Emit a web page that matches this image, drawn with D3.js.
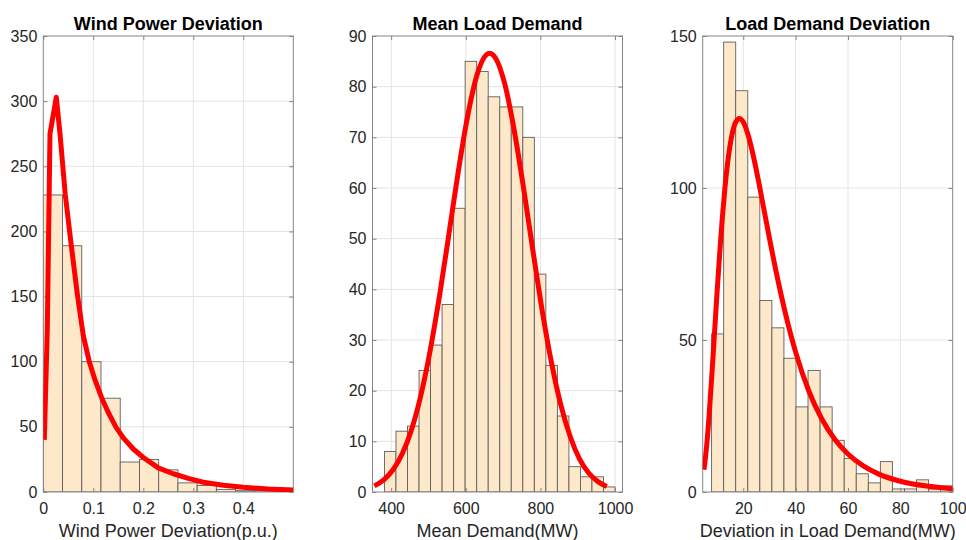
<!DOCTYPE html>
<html><head><meta charset="utf-8">
<script src="https://cdn.jsdelivr.net/npm/d3@7"></script>
<style>
body{margin:0;background:#fff}
svg text{font-family:Arial,"Liberation Sans",Helvetica,sans-serif}
</style>
</head><body>
<svg id="chart" width="966" height="540"></svg>
<script>
// ---------- DATA ----------
// Panel 1: Wind Power Deviation (p.u.)
const windCounts = [228,189,100,72,23,25,17,7,5,2,1,1,1];
const windBinStart = 0;
const windBinWidth = 0.03846;
const windXTicks = [0,0.1,0.2,0.3,0.4];
const windYTicks = [0,50,100,150,200,250,300,350];
const windCurveX = [0.002,0.008,0.0134,0.026,0.0334,0.044,0.056,0.068,0.08,0.092,0.1034,0.117,0.13,0.145,0.16,0.18,0.2,0.23,0.26,0.29,0.32,0.36,0.40,0.45,0.5];
const windCurveY = [40,125,275,303,275,228,189,152,120,100,86,72,61,50,41.5,33,26.5,18.5,14,10.5,7.5,5.2,3.6,2.3,1.5];

// Panel 2: Mean Load Demand (MW)
const meanCounts = [8,12,13,24,29,37,56,85,83,78,76,76,70,43,25,15,5,3,3,1];
const meanBinStart = 382;
const meanBinWidth = 30.9;
const meanXTicks = [400,600,800,1000];
const meanYTicks = [0,10,20,30,40,50,60,70,80,90];
const meanCurveX = [355,380,405,430,455,480,505,530,555,580,605,630,655,664,680,705,730,755,780,805,830,855,880,905,930,955,978];
const meanCurveY = [1.2,2.4,4.4,7.6,12.4,19.2,28.1,38.9,51.0,63.3,74.2,82.3,86.3,86.6,85.6,80.4,71.3,59.9,47.6,35.7,25.4,17.1,10.9,6.5,3.7,2.0,1.1];

// Panel 3: Deviation in Load Demand (MW)
const devCounts = [52,148,132,97,63,54,44,28,40,28,17,11,6,3,10,1,1,4,1,2];
const devBinStart = 7.9;
const devBinWidth = 4.605;
const devXTicks = [20,40,60,80,100];
const devYTicks = [0,50,100,150];
const devCurveX = [5,6,7,8,9,10,11,12,13,14,15,16,17,18.5,20,22,24,26,28,30,33,36,40,45,50,55,60,66,72,80,90,100];
const devCurveY = [7.3,15.1,25.8,38.5,52.1,65.8,78.6,90.2,100.1,108.1,114.3,118.7,121.5,122.9,121.7,117,109.9,101.5,92.5,83.5,70.6,59.1,46,33.3,24,17.3,12.5,8.5,5.8,3.55,1.96,1.1];

const titles = ["Wind Power Deviation","Mean Load Demand","Load Demand Deviation"];
const xLabels = ["Wind Power Deviation(p.u.)","Mean Demand(MW)","Deviation in Load Demand(MW)"];

// ---------- LAYOUT ----------
const svg = d3.select("#chart");
const plotTop = 36, plotBottom = 492, pw = 250;
const panels = [
  {left:43.3, xDomain:[0,0.5], yDomain:[0,350], counts:windCounts, b0:windBinStart, bw:windBinWidth,
   xTicks:windXTicks, yTicks:windYTicks, cx:windCurveX, cy:windCurveY, curve:d3.curveLinear},
  {left:372.5, xDomain:[350,1020], yDomain:[0,90], counts:meanCounts, b0:meanBinStart, bw:meanBinWidth,
   xTicks:meanXTicks, yTicks:meanYTicks, cx:meanCurveX, cy:meanCurveY, curve:d3.curveMonotoneX},
  {left:702.7, xDomain:[4.5,100], yDomain:[0,150], counts:devCounts, b0:devBinStart, bw:devBinWidth,
   xTicks:devXTicks, yTicks:devYTicks, cx:devCurveX, cy:devCurveY, curve:d3.curveMonotoneX}
];

const textCol = "#262626", gridCol = "#e3e3e3", boxCol = "#858585";

panels.forEach((p,i) => {
  const x = d3.scaleLinear().domain(p.xDomain).range([p.left, p.left+pw]);
  const y = d3.scaleLinear().domain(p.yDomain).range([plotBottom, plotTop]);
  const g = svg.append("g");
  const clipId = "clip"+i;
  svg.append("clipPath").attr("id",clipId).append("rect")
    .attr("x",p.left).attr("y",plotTop).attr("width",pw).attr("height",plotBottom-plotTop);

  // grid
  g.append("g").selectAll("line").data(p.xTicks.filter(t=>t>p.xDomain[0]&&t<p.xDomain[1])).join("line")
    .attr("x1",d=>x(d)).attr("x2",d=>x(d)).attr("y1",plotTop).attr("y2",plotBottom)
    .attr("stroke",gridCol).attr("stroke-width",1);
  g.append("g").selectAll("line").data(p.yTicks.filter(t=>t>p.yDomain[0]&&t<p.yDomain[1])).join("line")
    .attr("x1",p.left).attr("x2",p.left+pw).attr("y1",d=>y(d)).attr("y2",d=>y(d))
    .attr("stroke",gridCol).attr("stroke-width",1);

  // bars
  g.append("g").attr("clip-path",`url(#${clipId})`).selectAll("rect").data(p.counts).join("rect")
    .attr("x",(d,k)=>x(p.b0+k*p.bw))
    .attr("width",(d,k)=>x(p.b0+(k+1)*p.bw)-x(p.b0+k*p.bw))
    .attr("y",d=>y(d)).attr("height",d=>plotBottom-y(d))
    .attr("fill","#fde9c9").attr("stroke","#5e5e5e").attr("stroke-width",0.9);

  // axes
  const ax = g.append("g").attr("transform",`translate(0,${plotBottom})`)
    .call(d3.axisBottom(x).tickValues(p.xTicks).tickSizeInner(-4).tickSizeOuter(0).tickPadding(11).tickFormat(d=>String(d)));
  const ay = g.append("g").attr("transform",`translate(${p.left},0)`)
    .call(d3.axisLeft(y).tickValues(p.yTicks).tickSizeInner(-4).tickSizeOuter(0).tickPadding(6).tickFormat(d=>String(d)));
  const at = g.append("g").attr("transform",`translate(0,${plotTop})`)
    .call(d3.axisTop(x).tickValues(p.xTicks).tickSizeInner(-4).tickSizeOuter(0).tickFormat(""));
  const ar = g.append("g").attr("transform",`translate(${p.left+pw},0)`)
    .call(d3.axisRight(y).tickValues(p.yTicks).tickSizeInner(-4).tickSizeOuter(0).tickFormat(""));
  [ax,ay,at,ar].forEach(a=>{
    a.select(".domain").remove();
    a.selectAll(".tick line").attr("stroke",boxCol);
    a.selectAll(".tick text").attr("fill",textCol).style("font-size","16px");
  });
  // box
  g.append("rect").attr("x",p.left).attr("y",plotTop).attr("width",pw).attr("height",plotBottom-plotTop)
    .attr("fill","none").attr("stroke",boxCol).attr("stroke-width",1);

  // fitted curve
  const pts = p.cx.map((v,k)=>[v,p.cy[k]]);
  g.append("path").datum(pts).attr("clip-path",`url(#${clipId})`)
    .attr("d",d3.line().x(d=>x(d[0])).y(d=>y(d[1])).curve(p.curve))
    .attr("fill","none").attr("stroke","#ff0000").attr("stroke-width",5)
    .attr("stroke-linejoin","round").attr("stroke-linecap","butt");

  // title & label
  g.append("text").attr("x",p.left+pw/2).attr("y",30).attr("text-anchor","middle")
    .style("font-size","18px").style("font-weight","bold").attr("fill","#000").text(titles[i]);
  g.append("text").attr("x",p.left+pw/2).attr("y",537).attr("text-anchor","middle")
    .style("font-size","18px").attr("fill",textCol).text(xLabels[i]);
});
</script>
</body></html>
